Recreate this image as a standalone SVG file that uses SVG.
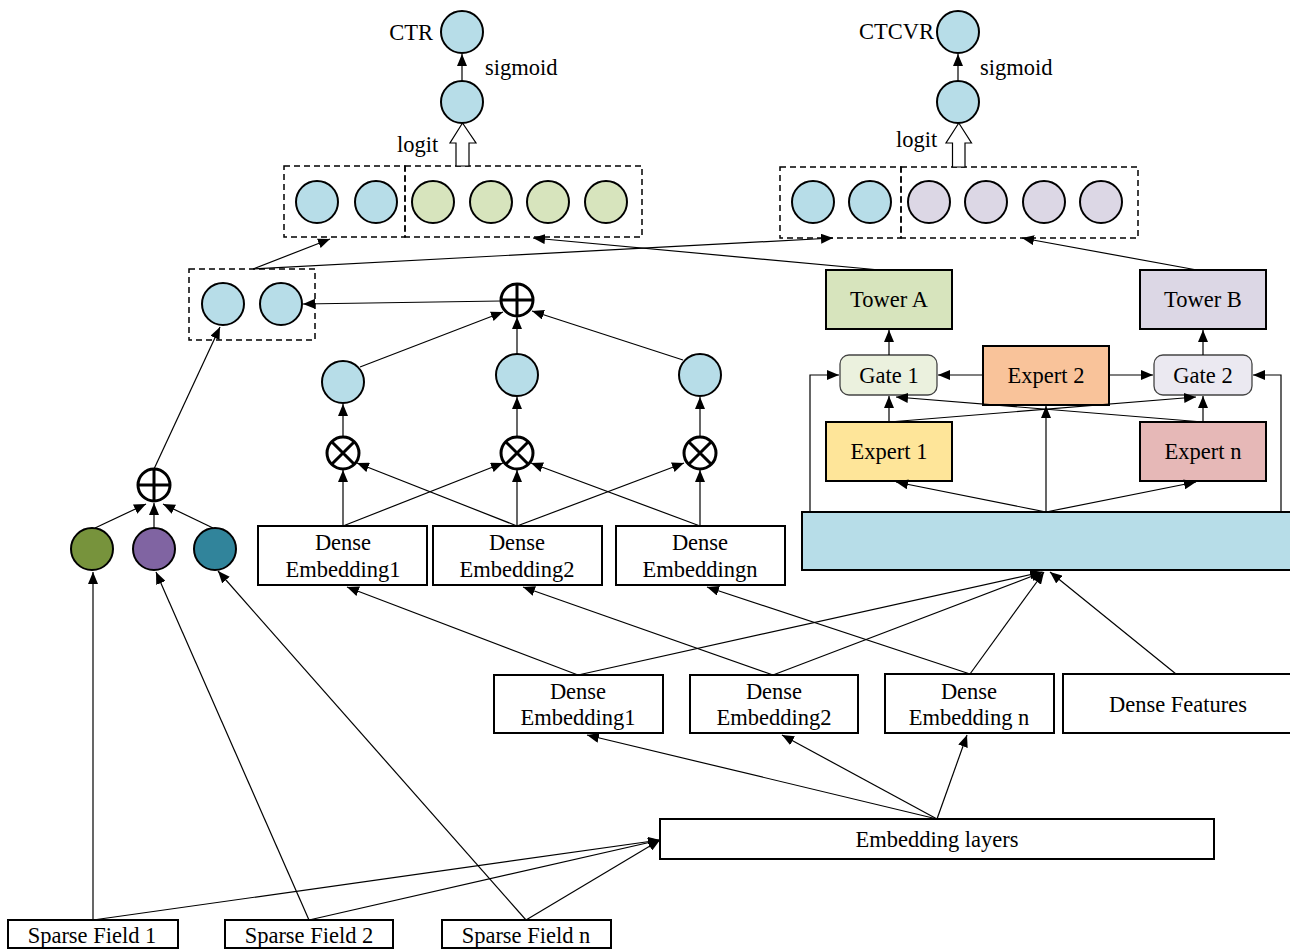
<svg xmlns="http://www.w3.org/2000/svg" width="1290" height="950" viewBox="0 0 1290 950">
<style>
text{font-family:"Liberation Serif","Times New Roman",serif;font-size:22.5px;fill:#000;dominant-baseline:central}
.c{text-anchor:middle}
.box{stroke:#000;stroke-width:2}
.gate{stroke:#444;stroke-width:1.3}
.dash{fill:none;stroke:#000;stroke-width:1.5;stroke-dasharray:6,4}
.cir{stroke:#000;stroke-width:2}
.op{fill:#fff;stroke:#000;stroke-width:3}
.blue{fill:#b7dde8}
.green{fill:#d7e4bd}
.purple{fill:#dcd7e5}
#edges line,#edges polyline{stroke:#000;stroke-width:1.2;fill:none;marker-end:url(#ah)}
</style>
<defs>
<marker id="ah" viewBox="0 0 12 10" refX="12" refY="5" markerWidth="12" markerHeight="10" orient="auto" markerUnits="userSpaceOnUse"><path d="M0,0 L12,5 L0,10 z" fill="#000"/></marker>
</defs>
<rect width="1290" height="950" fill="#fff"/>

<!-- top-left output -->
<g id="ctr">
<circle class="cir blue" cx="462" cy="32" r="21"/>
<text x="433" y="32" text-anchor="end">CTR</text>
</g>
<g id="ctr-logit">
<circle class="cir blue" cx="462" cy="102" r="21"/>
<text x="485" y="67">sigmoid</text>
<text x="397" y="144">logit</text>
</g>
<g id="concat-a">
<rect class="dash" x="284" y="166" width="121" height="71"/>
<rect class="dash" x="405" y="166" width="237" height="71"/>
<circle class="cir blue" cx="317" cy="202" r="21"/>
<circle class="cir blue" cx="376" cy="202" r="21"/>
<circle class="cir green" cx="433" cy="202" r="21"/>
<circle class="cir green" cx="491" cy="202" r="21"/>
<circle class="cir green" cx="548" cy="202" r="21"/>
<circle class="cir green" cx="606" cy="202" r="21"/>
</g>

<!-- top-right output -->
<g id="ctcvr">
<circle class="cir blue" cx="958" cy="32" r="21"/>
<text x="934" y="31" text-anchor="end">CTCVR</text>
</g>
<g id="ctcvr-logit">
<circle class="cir blue" cx="958" cy="102" r="21"/>
<text x="980" y="67">sigmoid</text>
<text x="896" y="139">logit</text>
</g>
<g id="concat-b">
<rect class="dash" x="780" y="167" width="121" height="71"/>
<rect class="dash" x="901" y="167" width="237" height="71"/>
<circle class="cir blue" cx="813" cy="202" r="21"/>
<circle class="cir blue" cx="870" cy="202" r="21"/>
<circle class="cir purple" cx="929" cy="202" r="21"/>
<circle class="cir purple" cx="986" cy="202" r="21"/>
<circle class="cir purple" cx="1044" cy="202" r="21"/>
<circle class="cir purple" cx="1101" cy="202" r="21"/>
</g>

<!-- shared embedding pair -->
<g id="shared">
<rect class="dash" x="189" y="269" width="126" height="71"/>
<circle class="cir blue" cx="223" cy="304" r="21"/>
<circle class="cir blue" cx="281" cy="304" r="21"/>
</g>

<!-- sum nodes -->
<g id="sum-top">
<circle class="op" cx="517" cy="300" r="16"/>
<path d="M501,300 H533 M517,284 V316" stroke="#000" stroke-width="3"/>
</g>
<g id="sum-left">
<circle class="op" cx="154" cy="485" r="16"/>
<path d="M138,485 H170 M154,469 V501" stroke="#000" stroke-width="3"/>
</g>

<!-- middle circles -->
<g id="mid1"><circle class="cir blue" cx="343" cy="382" r="21"/></g>
<g id="mid2"><circle class="cir blue" cx="517" cy="375" r="21"/></g>
<g id="mid3"><circle class="cir blue" cx="700" cy="375" r="21"/></g>

<!-- product nodes -->
<g id="mul1"><circle class="op" cx="343" cy="453" r="16"/><path d="M331.7,441.7 L354.3,464.3 M354.3,441.7 L331.7,464.3" stroke="#000" stroke-width="3"/></g>
<g id="mul2"><circle class="op" cx="517" cy="453" r="16"/><path d="M505.7,441.7 L528.3,464.3 M528.3,441.7 L505.7,464.3" stroke="#000" stroke-width="3"/></g>
<g id="mul3"><circle class="op" cx="700" cy="453" r="16"/><path d="M688.7,441.7 L711.3,464.3 M711.3,441.7 L688.7,464.3" stroke="#000" stroke-width="3"/></g>

<!-- sparse colored circles -->
<g id="sp1"><circle class="cir" cx="92" cy="549" r="21" fill="#77933c"/></g>
<g id="sp2"><circle class="cir" cx="154" cy="549" r="21" fill="#8064a2"/></g>
<g id="sp3"><circle class="cir" cx="215" cy="549" r="21" fill="#31849b"/></g>

<!-- upper dense embeddings -->
<g id="ude1"><rect class="box" x="258" y="526" width="169" height="59" fill="#fff"/><text class="c" x="343" y="542">Dense</text><text class="c" x="343" y="569">Embedding1</text></g>
<g id="ude2"><rect class="box" x="433" y="526" width="169" height="59" fill="#fff"/><text class="c" x="517" y="542">Dense</text><text class="c" x="517" y="569">Embedding2</text></g>
<g id="ude3"><rect class="box" x="616" y="526" width="169" height="59" fill="#fff"/><text class="c" x="700" y="542">Dense</text><text class="c" x="700" y="569">Embeddingn</text></g>

<!-- MMOE -->
<g id="towerA"><rect class="box" x="826" y="270" width="126" height="59" fill="#d7e4bd"/><text class="c" x="889" y="299">Tower A</text></g>
<g id="towerB"><rect class="box" x="1140" y="270" width="126" height="59" fill="#dcd7e5"/><text class="c" x="1203" y="299">Tower B</text></g>
<g id="gate1"><rect class="gate" x="840" y="355" width="97" height="40" rx="9" fill="#ebf1de"/><text class="c" x="889" y="375">Gate 1</text></g>
<g id="gate2"><rect class="gate" x="1154" y="355" width="98" height="40" rx="9" fill="#ebe9f1"/><text class="c" x="1203" y="375">Gate 2</text></g>
<g id="expert2"><rect class="box" x="983" y="346" width="126" height="59" fill="#f9c39a"/><text class="c" x="1046" y="375">Expert 2</text></g>
<g id="expert1"><rect class="box" x="826" y="422" width="126" height="59" fill="#fee599"/><text class="c" x="889" y="451">Expert 1</text></g>
<g id="expertn"><rect class="box" x="1140" y="422" width="126" height="59" fill="#e6b8b7"/><text class="c" x="1203" y="451">Expert n</text></g>
<g id="input-layer"><rect class="box" x="802" y="512" width="492" height="58" fill="#b7dde8"/></g>

<!-- lower dense embeddings -->
<g id="lde1"><rect class="box" x="494" y="675" width="169" height="58" fill="#fff"/><text class="c" x="578" y="691">Dense</text><text class="c" x="578" y="717">Embedding1</text></g>
<g id="lde2"><rect class="box" x="690" y="675" width="168" height="58" fill="#fff"/><text class="c" x="774" y="691">Dense</text><text class="c" x="774" y="717">Embedding2</text></g>
<g id="lde3"><rect class="box" x="885" y="674" width="169" height="59" fill="#fff"/><text class="c" x="969" y="691">Dense</text><text class="c" x="969" y="717">Embedding n</text></g>
<g id="dense-features"><rect class="box" x="1063" y="674" width="231" height="59" fill="#fff"/><text class="c" x="1178" y="704">Dense Features</text></g>

<g id="embedding-layers"><rect class="box" x="660" y="819" width="554" height="40" fill="#fff"/><text class="c" x="937" y="839">Embedding layers</text></g>

<g id="sf1"><rect class="box" x="8" y="920" width="170" height="28" fill="#fff"/><text class="c" x="92" y="935">Sparse Field 1</text></g>
<g id="sf2"><rect class="box" x="225" y="920" width="168" height="28" fill="#fff"/><text class="c" x="309" y="935">Sparse Field 2</text></g>
<g id="sfn"><rect class="box" x="442" y="920" width="169" height="28" fill="#fff"/><text class="c" x="526" y="935">Sparse Field n</text></g>

<g id="edges">
<!-- top -->
<line x1="462" y1="81" x2="462" y2="54"/>
<line x1="958" y1="81" x2="958" y2="54"/>
<polygon points="456,166 469,166 469,143 476,143 462.5,123 450,143 456,143" fill="#fff" stroke="#000" stroke-width="1.2"/>
<polygon points="952.5,167 965,167 965,143 971.5,143 958.8,123 946,143 952.5,143" fill="#fff" stroke="#000" stroke-width="1.2"/>
<line x1="880" y1="270" x2="533" y2="238"/>
<line x1="1197" y1="270" x2="1022" y2="238"/>
<line x1="253" y1="269" x2="330" y2="239"/>
<line x1="253" y1="269" x2="833" y2="238"/>
<line x1="501" y1="301" x2="303" y2="304"/>
<line x1="154" y1="469" x2="220" y2="327"/>
<!-- sparse circles to sum -->
<line x1="95" y1="528" x2="146" y2="504"/>
<line x1="154" y1="528" x2="154" y2="503"/>
<line x1="213" y1="528" x2="163" y2="504"/>
<!-- middle -->
<line x1="343" y1="437" x2="343" y2="404"/>
<line x1="517" y1="437" x2="517" y2="397"/>
<line x1="700" y1="437" x2="700" y2="397"/>
<line x1="360" y1="367" x2="503" y2="312"/>
<line x1="517" y1="354" x2="517" y2="317"/>
<line x1="683" y1="360" x2="532" y2="311"/>
<line x1="343" y1="526" x2="343" y2="470"/>
<line x1="343" y1="526" x2="503" y2="463"/>
<line x1="517" y1="526" x2="357" y2="463"/>
<line x1="517" y1="526" x2="517" y2="470"/>
<line x1="517" y1="526" x2="684" y2="463"/>
<line x1="700" y1="526" x2="531" y2="463"/>
<line x1="700" y1="526" x2="700" y2="470"/>
<!-- MMOE -->
<line x1="889" y1="355" x2="889" y2="330"/>
<line x1="1203" y1="355" x2="1203" y2="330"/>
<line x1="983" y1="375" x2="938" y2="375"/>
<line x1="1109" y1="375" x2="1153" y2="375"/>
<line x1="889" y1="422" x2="889" y2="396"/>
<line x1="1203" y1="422" x2="1203" y2="396"/>
<line x1="889" y1="422" x2="1196" y2="397"/>
<line x1="1203" y1="422" x2="896" y2="397"/>
<line x1="1046" y1="512" x2="1046" y2="406"/>
<line x1="1046" y1="512" x2="896" y2="482"/>
<line x1="1046" y1="512" x2="1196" y2="482"/>
<polyline points="810,512 810,375 839,375"/>
<polyline points="1281,512 1281,375 1253,375"/>
<!-- lower dense -->
<line x1="578" y1="675" x2="347" y2="587"/>
<line x1="578" y1="675" x2="1042" y2="572"/>
<line x1="773" y1="675" x2="523" y2="587"/>
<line x1="773" y1="675" x2="1043" y2="572"/>
<line x1="970" y1="674" x2="707" y2="587"/>
<line x1="970" y1="674" x2="1044" y2="572"/>
<line x1="1176" y1="674" x2="1050" y2="572"/>
<line x1="937" y1="819" x2="587" y2="735"/>
<line x1="937" y1="819" x2="782" y2="735"/>
<line x1="937" y1="819" x2="967" y2="735"/>
<!-- sparse -->
<line x1="93" y1="920" x2="93" y2="572"/>
<line x1="309" y1="920" x2="156" y2="572"/>
<line x1="526" y1="920" x2="218" y2="571"/>
<line x1="93" y1="920" x2="660" y2="840"/>
<line x1="309" y1="920" x2="660" y2="840"/>
<line x1="526" y1="920" x2="660" y2="840"/>
</g>
</svg>
